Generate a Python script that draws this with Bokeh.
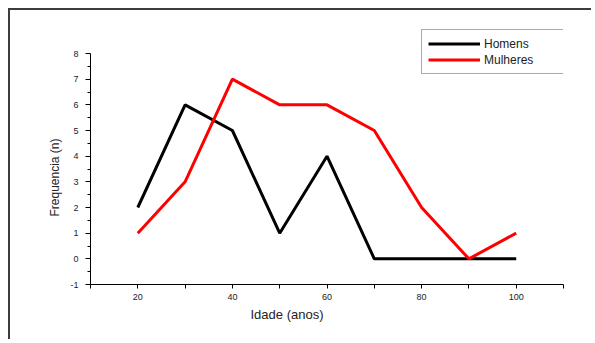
from bokeh.plotting import figure
from bokeh.models import FixedTicker, Legend, LegendItem, Range1d, Title
from bokeh.embed import file_html
from bokeh.resources import INLINE

idade = [20, 30, 40, 50, 60, 70, 80, 90, 100]
homens = [2, 6, 5, 1, 4, 0, 0, 0, 0]
mulheres = [1, 3, 7, 6, 6, 5, 2, 0, 1]

x_ticks = [10, 20, 30, 40, 50, 60, 70, 80, 90, 100, 110]
x_labels = {10: "", 20: "20", 30: "", 40: "40", 50: "", 60: "60", 70: "",
            80: "80", 90: "", 100: "100", 110: ""}
y_ticks = [-1, 0, 1, 2, 3, 4, 5, 6, 7, 8]
y_minor = [-0.5, 0.5, 1.5, 2.5, 3.5, 4.5, 5.5, 6.5, 7.5]
y_labels = {-1: "-1"}

FONT = "Liberation Sans"

# frame spans from page y=10 to y=284; values -1..8 occupy y=53..284
Y_TOP = 8 + (53 - 10) / (231 / 9)

p = figure(width=583, height=331, output_backend="svg", toolbar_location=None,
           x_range=Range1d(10, 110), y_range=Range1d(-1, Y_TOP),
           min_border_left=80, min_border_right=30, min_border_top=0,
           min_border_bottom=57)
p.styles = {"border-left": "2px solid #3c3c3c", "border-top": "2px solid #3c3c3c",
            "margin-left": "8px", "margin-top": "8px"}
p.outline_line_color = None
p.background_fill_color = "white"
p.border_fill_color = "white"
p.xgrid.visible = False
p.ygrid.visible = False

r1 = p.line(idade, homens, line_color="black", line_width=3)
r2 = p.line(idade, mulheres, line_color="#ff0000", line_width=3)

xa = p.xaxis[0]
xa.ticker = FixedTicker(ticks=x_ticks, minor_ticks=[])
xa.major_label_overrides = x_labels
xa.major_tick_out = 4
xa.major_tick_in = 0
xa.minor_tick_out = 0
xa.axis_line_color = "black"
xa.major_tick_line_color = "black"
xa.major_label_text_font = FONT
xa.major_label_text_font_size = "9px"
xa.major_label_text_color = "#222222"
xa.major_label_standoff = 5

ya = p.yaxis[0]
ya.bounds = (-1, 8)
ya.ticker = FixedTicker(ticks=y_ticks, minor_ticks=y_minor)
ya.major_label_overrides = y_labels
ya.major_tick_out = 5
ya.major_tick_in = 0
ya.minor_tick_out = 3
ya.minor_tick_in = 0
ya.axis_line_color = "black"
ya.major_tick_line_color = "black"
ya.minor_tick_line_color = "black"
ya.major_label_text_font = FONT
ya.major_label_text_font_size = "9px"
ya.major_label_text_color = "#222222"
ya.major_label_standoff = 7

xt = Title(text="Idade (anos)", align="left", offset=160, standoff=4,
           text_font=FONT, text_font_size="13px", text_font_style="normal",
           text_color="#222222")
p.add_layout(xt, "below")
yt = Title(text="Frequencia (n)", align="left", offset=68, standoff=12,
           text_font=FONT, text_font_size="12px", text_font_style="normal",
           text_color="#222222")
p.add_layout(yt, "left")

legend = Legend(items=[LegendItem(label="Homens", renderers=[r1]),
                       LegendItem(label="Mulheres", renderers=[r2])],
                location=(331, 210), padding=6, spacing=1,
                glyph_width=52, glyph_height=15, label_height=15,
                label_width=90, label_standoff=4,
                label_text_font=FONT, label_text_font_size="12px",
                label_text_color="#222222",
                border_line_color="#555555", border_line_width=1.5,
                background_fill_color="white", background_fill_alpha=1.0)
p.add_layout(legend, "center")

open("out.html", "w").write(file_html(p, INLINE))
